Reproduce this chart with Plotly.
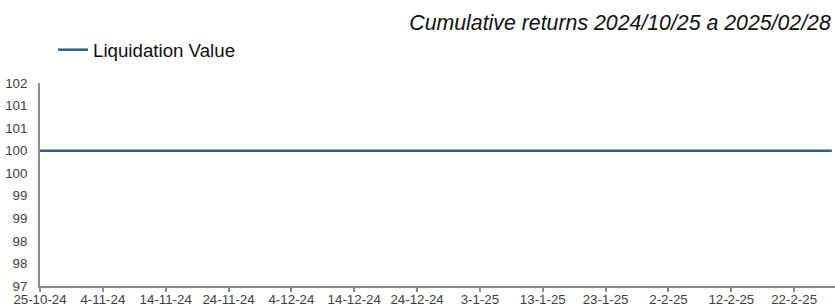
import pandas as pd
import plotly.graph_objects as go

# Data
dates = pd.bdate_range("2024-10-25", "2025-02-28")
liquidation_value = [100.0] * len(dates)

x_tick_dates = pd.date_range("2024-10-25", "2025-02-22", freq="10D")
x_tick_labels = [f"{d.day}-{d.month}-{d.strftime('%y')}" for d in x_tick_dates]

y_tick_vals = [97, 97.5, 98, 98.5, 99, 99.5, 100, 100.5, 101, 101.5]
y_tick_labels = ["97", "98", "98", "99", "99", "100", "100", "101", "101", "102"]

fig = go.Figure()
fig.add_trace(go.Scatter(
    x=dates, y=liquidation_value, mode="lines", name="Liquidation Value",
    line=dict(color="#2f5f8f", width=2.5),
))

fig.update_layout(
    width=835, height=307,
    margin=dict(l=40, r=0, t=83, b=21),
    paper_bgcolor="white", plot_bgcolor="white",
    font=dict(family="Liberation Sans, Arial, sans-serif", size=13.5, color="#404040"),
    title=dict(
        text="<i>Cumulative returns 2024/10/25 a 2025/02/28</i>",
        x=0.995, xanchor="right", y=0.925, yanchor="middle",
        font=dict(size=21.3, color="#111111"),
    ),
    showlegend=True,
    legend=dict(
        x=0.0635, xref="container", xanchor="left",
        y=0.837, yref="container", yanchor="middle",
        orientation="h", font=dict(size=18.7, color="#111111"),
        bgcolor="rgba(0,0,0,0)", itemwidth=30,
    ),
    xaxis=dict(
        range=[pd.Timestamp("2024-10-25"), pd.Timestamp("2025-02-28 12:00")],
        tickvals=x_tick_dates, ticktext=x_tick_labels,
        showgrid=False, zeroline=False, automargin=False,
        showline=True, linecolor="#8c8c8c", linewidth=2,
        ticks="outside", ticklen=4, tickwidth=2, tickcolor="#8c8c8c",
        ticklabelstandoff=-4,
        tickfont=dict(size=13.3, color="#404040"),
    ),
    yaxis=dict(
        range=[97, 101.5],
        tickvals=y_tick_vals, ticktext=y_tick_labels,
        showgrid=False, zeroline=False, automargin=False,
        showline=True, linecolor="#8c8c8c", linewidth=2,
        ticks="", ticklabelstandoff=8,
        tickfont=dict(size=13.3, color="#404040"),
    ),
)

fig.write_html(
    "out.html",
    config={"displayModeBar": False},
    post_script="document.body.style.margin='0';document.body.style.overflow='hidden';",
)
